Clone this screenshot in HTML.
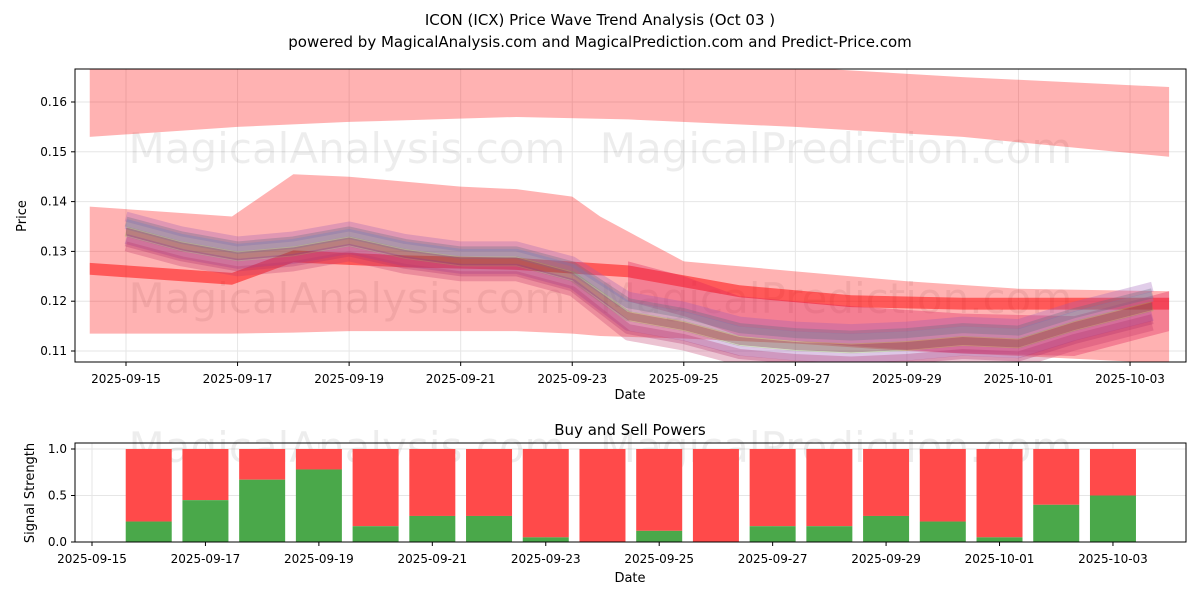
<!DOCTYPE html>
<html><head><meta charset="utf-8"><style>
body{margin:0;background:#fff;font-family:"Liberation Sans","DejaVu Sans",sans-serif}
svg text{font-family:"DejaVu Sans","Liberation Sans",sans-serif}
</style></head><body>
<svg id="c" width="1200" height="600" xmlns="http://www.w3.org/2000/svg">
<defs><clipPath id="pc"><rect x="75" y="69" width="1111" height="293"/></clipPath></defs>
<rect width="1200" height="600" fill="#fff"/>
<text x="600" y="25" text-anchor="middle" font-size="15">ICON (ICX) Price Wave Trend Analysis (Oct 03 )</text>
<text x="600" y="47" text-anchor="middle" font-size="15">powered by MagicalAnalysis.com and MagicalPrediction.com and Predict-Price.com</text>
<g id="topg"></g><g id="botg"></g>
</svg>
<script>
// ---- data ----
const priceTicks=[0.11,0.12,0.13,0.14,0.15,0.16];
const dateTicks=["2025-09-15","2025-09-17","2025-09-19","2025-09-21","2025-09-23","2025-09-25","2025-09-27","2025-09-29","2025-10-01","2025-10-03"];
const bandDays=[-0.65,2,4,7,9,12,15,18.7];
const topBandHi=[0.168,0.1675,0.168,0.168,0.168,0.167,0.165,0.163];
const topBandLo=[0.153,0.155,0.156,0.157,0.1565,0.155,0.153,0.149];
const bigBandDays=[-0.65,1.9,3,4,6,7,8,8.5,10,12,14,16,18.7];
const bigBandHi=[0.139,0.137,0.1455,0.145,0.143,0.1425,0.141,0.137,0.128,0.126,0.124,0.1225,0.122];
const bigBandLo=[0.1135,0.1135,0.1137,0.114,0.114,0.114,0.1135,0.113,0.1125,0.1115,0.11,0.109,0.1075];
const redLineDays=[-0.65,1.9,3,5,7,9,11,13,15,18.7];
const redLineVal=[0.1265,0.1245,0.129,0.128,0.1275,0.126,0.122,0.12,0.1195,0.1195];
const red2Days=[9,10,11,13,15,17,18.7];
const red2Val=[0.124,0.121,0.117,0.115,0.1135,0.113,0.118];
const trendDays=[0,1,2,3,4,5,6,7,8,9,10,11,12,13,14,15,16,17,18.4];
const trendVal=[0.134,0.131,0.129,0.130,0.132,0.1295,0.128,0.128,0.125,0.117,0.115,0.112,0.111,0.1105,0.111,0.112,0.1115,0.115,0.119];
const trendOffsets=[0.003,0.0015,0,-0.0015,-0.003,0.002,-0.002];
const trendColors=["#9b59b6","#6a8fdc","#7cb342","#8e44ad","#c0396b","#5d6d7e","#b0306b"];
const barDates=["09-16","09-17","09-18","09-19","09-20","09-21","09-22","09-23","09-24","09-25","09-26","09-27","09-28","09-29","09-30","10-01","10-02","10-03"];
const buyVals=[0.22,0.45,0.67,0.78,0.17,0.28,0.28,0.05,0,0.12,0,0.17,0.17,0.28,0.22,0.05,0.4,0.5];
const sigTicks=[0,0.5,1.0];
// ---- axes ----
const NS="http://www.w3.org/2000/svg";
function mk(p,t,a){const e=document.createElementNS(NS,t);for(const k in a)e.setAttribute(k,a[k]);p.appendChild(e);return e;}
const X=d=>126+d*55.78, Y=v=>351-(v-0.11)*4980;
const X2=d=>92+d*56.72, Y2=v=>542-v*93;
const topG=document.getElementById('topg'), botG=document.getElementById('botg');
mk(topG,'rect',{x:75,y:69,width:1111,height:293,fill:'#fff'});
priceTicks.forEach(v=>{mk(topG,'line',{x1:75,x2:1186,y1:Y(v),y2:Y(v),stroke:'#e6e6e6'});
const t=mk(topG,'text',{x:67,y:Y(v)+4,'text-anchor':'end','font-size':12});t.textContent=v.toFixed(2);


mk(topG,'line',{x1:71,x2:75,y1:Y(v),y2:Y(v),stroke:'#000'});});
dateTicks.forEach((d,i)=>{const x=X(i*2);mk(topG,'line',{x1:x,x2:x,y1:69,y2:362,stroke:'#e6e6e6'});
mk(topG,'line',{x1:x,x2:x,y1:362,y2:366,stroke:'#000'});
const t=mk(topG,'text',{x:x,y:383,'text-anchor':'middle','font-size':12});t.textContent=d;

});
const wm=(g,y)=>{[["MagicalAnalysis.com",347],["MagicalPrediction.com",836]].forEach(([s,x])=>{const t=mk(g,'text',{x:x,y:y,'text-anchor':'middle','font-size':42,fill:'#000','fill-opacity':0.07});t.textContent=s;

});};
wm(topG,163);wm(topG,313);
const plot=mk(topG,'g',{'clip-path':'url(#pc)'});
function band(days,hi,lo,fill,op,name){let pts=days.map((d,i)=>X(d)+','+Y(hi[i]));
for(let i=days.length-1;i>=0;i--)pts.push(X(days[i])+','+Y(lo[i]));
const p=mk(plot,'polygon',{points:pts.join(' '),fill:fill,'fill-opacity':op});

}
band(bandDays,topBandHi,topBandLo,'#ff0000',0.3,'upper-band');
band(bigBandDays,bigBandHi,bigBandLo,'#ff0000',0.3,'lower-band');
band(redLineDays,redLineVal.map(v=>v+0.0012),redLineVal.map(v=>v-0.0012),'#ff0000',0.5,'red-trend-band');
band(red2Days,red2Val.map(v=>v+0.004),red2Val.map(v=>v-0.004),'#e0205a',0.35,'red-wave-band');
trendOffsets.forEach((o,k)=>{const pts=trendDays.map((d,i)=>X(d)+','+Y(trendVal[i]+o*(i<9?1:1.3)));
const pl=mk(plot,'polyline',{points:pts.join(' '),fill:'none',stroke:trendColors[k],'stroke-opacity':0.3,'stroke-width':10,'stroke-linejoin':'round'});

});
band(trendDays,trendVal.map(v=>v+0.0008),trendVal.map(v=>v-0.0008),'#802060',0.35,'central-trend');
mk(topG,'rect',{x:75,y:69,width:1111,height:293,fill:'none',stroke:'#000'});
let t=mk(topG,'text',{x:630,y:399,'text-anchor':'middle','font-size':13});t.textContent='Date';
t=mk(topG,'text',{x:26,y:216,'text-anchor':'middle','font-size':13,transform:'rotate(-90 26 216)'});t.textContent='Price';
// bottom
t=mk(botG,'text',{x:630,y:435,'text-anchor':'middle','font-size':15});t.textContent='Buy and Sell Powers';
sigTicks.forEach(v=>{mk(botG,'line',{x1:75,x2:1186,y1:Y2(v),y2:Y2(v),stroke:'#e6e6e6'});mk(botG,'line',{x1:71,x2:75,y1:Y2(v),y2:Y2(v),stroke:'#000'});
const s=mk(botG,'text',{x:67,y:Y2(v)+4,'text-anchor':'end','font-size':12});s.textContent=v.toFixed(1);});
dateTicks.forEach((d,i)=>{const x=X2(i*2);mk(botG,'line',{x1:x,x2:x,y1:443,y2:542,stroke:'#e6e6e6'});mk(botG,'line',{x1:x,x2:x,y1:542,y2:546,stroke:'#000'});
const s=mk(botG,'text',{x:x,y:563,'text-anchor':'middle','font-size':12});s.textContent=d;});
[["MagicalAnalysis.com",347],["MagicalPrediction.com",836]].forEach(([s,x])=>{const q=mk(botG,'text',{x:x,y:462,'text-anchor':'middle','font-size':42,fill:'#000','fill-opacity':0.07});q.textContent=s;});
barDates.forEach((d,i)=>{const x=X2(i+1)-23;
const r=mk(botG,'rect',{x:x,y:Y2(1),width:46,height:Y2(buyVals[i])-Y2(1),fill:'#ff4a4a'});


const g=mk(botG,'rect',{x:x,y:Y2(buyVals[i]),width:46,height:Y2(0)-Y2(buyVals[i]),fill:'#4aa84a'});

});
mk(botG,'rect',{x:75,y:443,width:1111,height:99,fill:'none',stroke:'#000'});
t=mk(botG,'text',{x:630,y:582,'text-anchor':'middle','font-size':13});t.textContent='Date';
t=mk(botG,'text',{x:34,y:493,'text-anchor':'middle','font-size':13,transform:'rotate(-90 34 493)'});t.textContent='Signal Strength';
</script>
</body></html>
